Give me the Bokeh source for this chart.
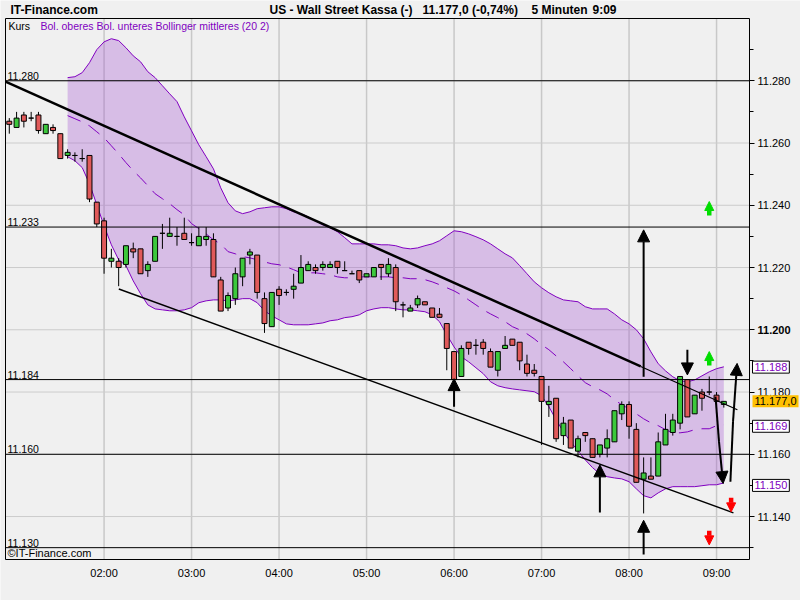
from bokeh.plotting import figure
from bokeh.models import Range1d, FixedTicker, NumeralTickFormatter, Label, Arrow, NormalHead, BoxAnnotation
from bokeh.embed import file_html
from bokeh.resources import INLINE

# ---------------- data (5-minute candles, 00:55 .. 09:05) ----------------
opens = [11.267, 11.265, 11.269, 11.268, 11.269, 11.263, 11.265, 11.263, 11.256, 11.256,
         11.255, 11.256, 11.241, 11.235, 11.222, 11.222, 11.221, 11.226, 11.226, 11.219,
         11.222, 11.231, 11.230, 11.230, 11.231, 11.228, 11.227, 11.229, 11.229, 11.216,
         11.207, 11.210, 11.217, 11.224, 11.224, 11.210, 11.201, 11.213, 11.212, 11.213,
         11.215, 11.219, 11.220, 11.220, 11.220, 11.222, 11.219, 11.218, 11.219, 11.217,
         11.217, 11.221, 11.218, 11.220, 11.208, 11.206, 11.208, 11.209, 11.207, 11.205,
         11.202, 11.193, 11.185, 11.196, 11.195, 11.196, 11.193, 11.187, 11.194, 11.197,
         11.196, 11.189, 11.187, 11.185, 11.176, 11.178, 11.166, 11.171, 11.161, 11.167,
         11.165, 11.160, 11.162, 11.164, 11.173, 11.176, 11.168, 11.152, 11.153, 11.153,
         11.163, 11.167, 11.170, 11.184, 11.173, 11.180, 11.180, 11.179, 11.176]
highs = [11.268, 11.270, 11.270, 11.270, 11.270, 11.266, 11.266, 11.263, 11.258, 11.257,
         11.258, 11.256, 11.241, 11.236, 11.226, 11.223, 11.227, 11.228, 11.226, 11.222,
         11.230, 11.234, 11.236, 11.233, 11.236, 11.231, 11.233, 11.233, 11.231, 11.217,
         11.212, 11.220, 11.223, 11.226, 11.224, 11.212, 11.212, 11.214, 11.213, 11.218,
         11.224, 11.222, 11.221, 11.222, 11.222, 11.222, 11.222, 11.219, 11.219, 11.218,
         11.220, 11.221, 11.223, 11.221, 11.209, 11.208, 11.211, 11.209, 11.207, 11.207,
         11.202, 11.193, 11.195, 11.196, 11.197, 11.197, 11.194, 11.193, 11.198, 11.197,
         11.196, 11.192, 11.189, 11.185, 11.182, 11.178, 11.172, 11.171, 11.166, 11.167,
         11.165, 11.163, 11.168, 11.174, 11.177, 11.177, 11.170, 11.159, 11.159, 11.167,
         11.173, 11.173, 11.185, 11.184, 11.179, 11.181, 11.185, 11.180, 11.177]
lows = [11.263, 11.265, 11.265, 11.267, 11.263, 11.263, 11.263, 11.255, 11.255, 11.254,
        11.254, 11.241, 11.233, 11.218, 11.220, 11.214, 11.220, 11.223, 11.218, 11.217,
        11.222, 11.226, 11.230, 11.227, 11.229, 11.227, 11.227, 11.227, 11.217, 11.206,
        11.206, 11.208, 11.214, 11.221, 11.210, 11.199, 11.201, 11.208, 11.211, 11.210,
        11.215, 11.219, 11.218, 11.219, 11.220, 11.218, 11.219, 11.218, 11.215, 11.217,
        11.217, 11.216, 11.217, 11.206, 11.204, 11.206, 11.207, 11.208, 11.204, 11.204,
        11.187, 11.184, 11.185, 11.192, 11.192, 11.192, 11.188, 11.185, 11.194, 11.195,
        11.187, 11.185, 11.185, 11.163, 11.172, 11.164, 11.163, 11.162, 11.159, 11.164,
        11.159, 11.159, 11.159, 11.164, 11.171, 11.165, 11.151, 11.141, 11.152, 11.153,
        11.163, 11.166, 11.168, 11.172, 11.173, 11.174, 11.179, 11.175, 11.175]
closes = [11.266, 11.268, 11.267, 11.268, 11.264, 11.266, 11.264, 11.255, 11.257, 11.256,
          11.255, 11.242, 11.234, 11.223, 11.223, 11.220, 11.227, 11.225, 11.218, 11.221,
          11.230, 11.231, 11.231, 11.230, 11.229, 11.228, 11.230, 11.230, 11.217, 11.206,
          11.211, 11.218, 11.223, 11.225, 11.212, 11.202, 11.212, 11.211, 11.212, 11.214,
          11.220, 11.221, 11.219, 11.221, 11.221, 11.220, 11.219, 11.218, 11.216, 11.218,
          11.220, 11.220, 11.221, 11.209, 11.208, 11.207, 11.210, 11.208, 11.204, 11.204,
          11.194, 11.184, 11.194, 11.194, 11.195, 11.194, 11.188, 11.193, 11.195, 11.195,
          11.190, 11.186, 11.186, 11.177, 11.177, 11.165, 11.170, 11.162, 11.165, 11.166,
          11.159, 11.163, 11.165, 11.174, 11.176, 11.169, 11.151, 11.154, 11.152, 11.164,
          11.168, 11.171, 11.185, 11.172, 11.179, 11.178, 11.180, 11.177, 11.177]

# Bollinger (20, 2), from the 9th candle on
boll_upper = [11.2810, 11.2813, 11.2826, 11.2858, 11.2900, 11.2925, 11.2935, 11.2929, 11.2906, 11.2880,
              11.2861, 11.2829, 11.2810, 11.2784, 11.2758, 11.2733, 11.2684, 11.2639, 11.2594, 11.2556,
              11.2517, 11.2456, 11.2408, 11.2382, 11.2373, 11.2379, 11.2389, 11.2392, 11.2395, 11.2395,
              11.2389, 11.2379, 11.2373, 11.2363, 11.2350, 11.2337, 11.2328, 11.2315, 11.2296, 11.2276,
              11.2276, 11.2276, 11.2276, 11.2273, 11.2273, 11.2270, 11.2263, 11.2260, 11.2263, 11.2270,
              11.2276, 11.2286, 11.2302, 11.2318, 11.2315, 11.2308, 11.2299, 11.2289, 11.2276, 11.2260,
              11.2244, 11.2231, 11.2206, 11.2180, 11.2154, 11.2135, 11.2119, 11.2106, 11.2096, 11.2093,
              11.2090, 11.2074, 11.2067, 11.2067, 11.2067, 11.2051, 11.2032, 11.2019, 11.2000, 11.1971,
              11.1929, 11.1891, 11.1868, 11.1849, 11.1836, 11.1833, 11.1839, 11.1852, 11.1865, 11.1875,
              11.1881]
boll_lower = [11.2556, 11.2543, 11.2521, 11.2469, 11.2402, 11.2334, 11.2273, 11.2225, 11.2206, 11.2157,
              11.2116, 11.2080, 11.2067, 11.2064, 11.2061, 11.2061, 11.2064, 11.2071, 11.2087, 11.2093,
              11.2096, 11.2096, 11.2093, 11.2096, 11.2100, 11.2100, 11.2087, 11.2061, 11.2045, 11.2032,
              11.2019, 11.2016, 11.2016, 11.2016, 11.2019, 11.2022, 11.2029, 11.2032, 11.2039, 11.2042,
              11.2048, 11.2061, 11.2067, 11.2071, 11.2071, 11.2067, 11.2064, 11.2064, 11.2061, 11.2058,
              11.2048, 11.2026, 11.1984, 11.1945, 11.1913, 11.1897, 11.1878, 11.1859, 11.1833, 11.1820,
              11.1814, 11.1810, 11.1807, 11.1804, 11.1801, 11.1788, 11.1753, 11.1711, 11.1672, 11.1640,
              11.1611, 11.1582, 11.1557, 11.1537, 11.1528, 11.1524, 11.1521, 11.1512, 11.1489, 11.1467,
              11.1460, 11.1476, 11.1489, 11.1496, 11.1496, 11.1496, 11.1496, 11.1499, 11.1502, 11.1502,
              11.1508]
boll_middle = [11.2688, 11.2678, 11.2668, 11.2655, 11.2636, 11.2617, 11.2591, 11.2565, 11.2537, 11.2511,
               11.2488, 11.2463, 11.2437, 11.2421, 11.2405, 11.2386, 11.2369, 11.2341, 11.2325, 11.2308,
               11.2289, 11.2276, 11.2251, 11.2244, 11.2235, 11.2231, 11.2225, 11.2218, 11.2212, 11.2209,
               11.2202, 11.2193, 11.2183, 11.2183, 11.2183, 11.2180, 11.2177, 11.2170, 11.2167, 11.2167,
               11.2170, 11.2170, 11.2170, 11.2170, 11.2170, 11.2167, 11.2167, 11.2164, 11.2164, 11.2161,
               11.2154, 11.2145, 11.2135, 11.2125, 11.2112, 11.2096, 11.2080, 11.2064, 11.2051, 11.2039,
               11.2026, 11.2010, 11.2000, 11.1987, 11.1971, 11.1952, 11.1936, 11.1916, 11.1897, 11.1875,
               11.1852, 11.1830, 11.1817, 11.1807, 11.1794, 11.1775, 11.1759, 11.1746, 11.1730, 11.1714,
               11.1701, 11.1692, 11.1679, 11.1669, 11.1669, 11.1672, 11.1679, 11.1682, 11.1682, 11.1692,
               11.1695]

hour_ticks = [120, 180, 240, 300, 360, 420, 480, 540]
hour_labels = ["02:00", "03:00", "04:00", "05:00", "06:00", "07:00", "08:00", "09:00"]
price_ticks = [11.14, 11.16, 11.18, 11.2, 11.22, 11.24, 11.26, 11.28]
price_minor = [11.13, 11.14, 11.15, 11.16, 11.17, 11.18, 11.19, 11.2, 11.21, 11.22, 11.23,
               11.24, 11.25, 11.26, 11.27, 11.28, 11.29]

level_values = [11.280, 11.233, 11.184, 11.160, 11.130]
level_labels = ["11.280", "11.233", "11.184", "11.160", "11.130"]

box_values = [11.188, 11.177, 11.169, 11.150]
box_texts = ["11.188", "11.177,0", "11.169", "11.150"]

# drawn trend lines (time in minutes, price)
trend1_t = [52.4, 554.3]
trend1_v = [11.2797, 11.1743]
trend1_thick_until = 488
trend2_t = [130.1, 551.6]
trend2_v = [11.2131, 11.1412]

# black arrows: time, from price, to price (tip)
arrow_t = [360, 460, 490, 490, 520]
arrow_from = [11.1753, 11.1413, 11.1849, 11.1278, 11.1936]
arrow_to = [11.1843, 11.1566, 11.2321, 11.1388, 11.1855]
curve_down_t = [539.3, 541.7, 544.5]
curve_down_v = [11.1785, 11.1640, 11.1506]
curve_up_t = [549.5, 551.3, 554.1]
curve_up_v = [11.1512, 11.1704, 11.1892]

# signal arrows
green_t = [535, 535]
green_from = [11.2367, 11.1885]
green_to = [11.2412, 11.1930]
red_t = [550, 535]
red_from = [11.1460, 11.1354]
red_to = [11.1415, 11.1309]

title_parts = ["US - Wall Street Kassa (-)", "11.177,0 (-0,74%)", "5 Minuten", "9:09"]

# ---------------- layout constants ----------------
FONT = "Liberation Sans"
BG = "#f0f0f0"
PURPLE = "#8000c0"
W, H = 800, 600
# chart box (data) and its pixel edges on the canvas
X0, X1 = 52.4, 562.6
Y0, Y1 = 11.1262, 11.300
PX_L, PX_R, PX_T, PX_B = 5, 749, 18, 559
ppx = (PX_R - PX_L) / (X1 - X0)
ppy = (PX_B - PX_T) / (Y1 - Y0)
XR = (X0 - PX_L / ppx, X1 + (W - PX_R) / ppx)
YR = (Y0 - (H - PX_B) / ppy, Y1 + PX_T / ppy)

times = [55 + 5 * i for i in range(len(opens))]
band_t = times[len(times) - len(boll_upper):]

p = figure(width=W, height=H, output_backend="svg", toolbar_location=None, title=None,
           x_range=Range1d(*XR), y_range=Range1d(*YR), y_axis_location="right",
           min_border_left=0, min_border_right=0, min_border_top=0, min_border_bottom=0,
           background_fill_color=BG, border_fill_color=BG, outline_line_color=None)
p.grid.visible = False

xa = p.xaxis[0]
xa.fixed_location = Y0
xa.bounds = (X0, X1)
xa.ticker = FixedTicker(ticks=hour_ticks)
xa.major_label_overrides = {t: s for t, s in zip(hour_ticks, hour_labels)}
xa.axis_line_color = None
xa.major_tick_line_color = None
xa.minor_tick_line_color = None
xa.major_tick_out = 0
xa.major_tick_in = 0
xa.minor_tick_out = 0
xa.major_label_standoff = 7
xa.major_label_text_font = FONT
xa.major_label_text_font_size = "11px"
xa.major_label_text_color = "black"

ya = p.yaxis[0]
ya.fixed_location = X1
ya.bounds = (Y0, Y1)
ya.ticker = FixedTicker(ticks=price_ticks, minor_ticks=price_minor)
ya.formatter = NumeralTickFormatter(format="0.000")
ya.major_label_overrides = {11.2: " "}
ya.axis_line_color = None
ya.major_tick_line_color = "black"
ya.minor_tick_line_color = "black"
ya.major_tick_out = 5
ya.major_tick_in = 0
ya.minor_tick_out = 4
ya.minor_tick_in = 0
ya.major_label_standoff = 3
ya.major_label_text_font = FONT
ya.major_label_text_font_size = "11px"
ya.major_label_text_color = "black"

# grid lines inside the chart box
p.segment(x0=hour_ticks, y0=[Y0] * len(hour_ticks), x1=hour_ticks, y1=[Y1] * len(hour_ticks),
          line_color="#c8c8c8", line_width=1.5)
p.segment(x0=[X0] * len(price_ticks), y0=price_ticks, x1=[X1] * len(price_ticks), y1=price_ticks,
          line_color="#cccccc", line_width=1)

# Bollinger band
p.varea(x=band_t, y1=boll_lower, y2=boll_upper, fill_color="#a049cf", fill_alpha=0.3)
p.line(band_t, boll_upper, line_color=PURPLE, line_width=1)
p.line(band_t, boll_lower, line_color=PURPLE, line_width=1)
p.line(band_t, boll_middle, line_color=PURPLE, line_width=1, line_dash="14 9")

# candles
p.segment(x0=times, y0=highs, x1=times, y1=lows, line_color="black", line_width=1)
tops = [max(o, c) for o, c in zip(opens, closes)]
bots = [min(o, c) for o, c in zip(opens, closes)]
cols = ["#3cc83c" if c > o else "#e05a5a" for o, c in zip(opens, closes)]
p.vbar(x=times, width=3.4, top=tops, bottom=bots, fill_color=cols, line_color="black", line_width=1)

# trend lines
slope = (trend1_v[1] - trend1_v[0]) / (trend1_t[1] - trend1_t[0])
mid_v = trend1_v[0] + slope * (trend1_thick_until - trend1_t[0])
p.line([trend1_t[0], trend1_thick_until], [trend1_v[0], mid_v], line_color="black", line_width=2.5)
p.line([trend1_thick_until, trend1_t[1]], [mid_v, trend1_v[1]], line_color="black", line_width=1.2)
p.line(trend2_t, trend2_v, line_color="black", line_width=1.4)

# horizontal levels
p.segment(x0=[X0] * len(level_values), y0=level_values, x1=[X1] * len(level_values), y1=level_values,
          line_color="black", line_width=1)
for v, s in zip(level_values, level_labels):
    p.add_layout(Label(x=X0, y=v, x_offset=2, y_offset=1, text=s, text_font=FONT,
                       text_font_size="10.5px", text_color="black", text_baseline="bottom"))

# chart box border
p.add_layout(BoxAnnotation(left=X0, right=X1, bottom=Y0, top=Y1, fill_alpha=0,
                           line_color="black", line_width=1, line_alpha=1))

# black arrows
for t, a, b in zip(arrow_t, arrow_from, arrow_to):
    p.add_layout(Arrow(end=NormalHead(size=12, fill_color="black", line_color="black"),
                       x_start=t, y_start=a, x_end=t, y_end=b, line_color="black", line_width=2))
for ct, cv in ((curve_down_t, curve_down_v), (curve_up_t, curve_up_v)):
    p.line(ct[:-1], cv[:-1], line_color="black", line_width=2)
    p.add_layout(Arrow(end=NormalHead(size=12, fill_color="black", line_color="black"),
                       x_start=ct[-2], y_start=cv[-2], x_end=ct[-1], y_end=cv[-1],
                       line_color="black", line_width=2))

# signal arrows
for ts, fs, tos, col in ((green_t, green_from, green_to, "#00dd00"), (red_t, red_from, red_to, "#ff0000")):
    for t, a, b in zip(ts, fs, tos):
        p.add_layout(Arrow(end=NormalHead(size=9, fill_color=col, line_color=col, line_width=1),
                           x_start=t, y_start=a, x_end=t, y_end=b, line_color=col, line_width=4.5))

# right-hand value boxes
for v, s in zip(box_values, box_texts):
    last = s == "11.177,0"
    p.add_layout(Label(x=X1, y=v, x_offset=3, text=s, text_font=FONT, text_font_size="11px",
                       text_color="black" if last else PURPLE, text_baseline="middle",
                       background_fill_color="#ffc000" if last else "white",
                       border_line_color=None if last else "black", border_line_width=1,
                       padding=2))
p.add_layout(Label(x=X1, y=11.2, x_offset=8, text="11.200", text_font=FONT, text_font_size="11px",
                   text_font_style="bold", text_color="black", text_baseline="middle"))


def page_label(text, px, py, size, color="black", style="normal"):
    p.add_layout(Label(x=px, y=H - py, x_units="screen", y_units="screen", text=text,
                       text_font=FONT, text_font_size=size, text_color=color,
                       text_font_style=style, text_baseline="middle"))


# titles and legend texts
page_label("IT-Finance.com", 10, 9, "12px", style="bold")
for s, px in zip(title_parts, [269, 422, 531, 592]):
    page_label(s, px, 9, "12px", style="bold")
page_label("Kurs", 8, 25, "10.5px")
page_label("Bol. oberes Bol. unteres Bollinger mittleres (20 2)", 40, 25, "10.5px", color=PURPLE)
page_label("\u00a9IT-Finance.com", 7, 552, "11px")

open("out.html", "w").write(file_html(p, INLINE))
